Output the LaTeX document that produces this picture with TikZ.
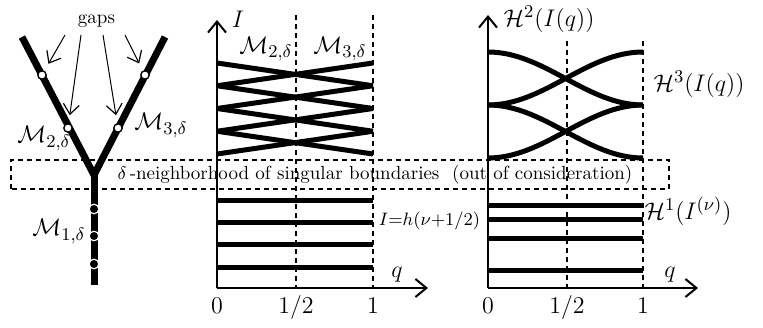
\documentclass[tikz,border=0pt]{standalone}
\usetikzlibrary{arrows.meta}

\tikzset{
  branch/.style={line width=3.5pt},
  opengap/.style={circle, draw, fill=white, line width=0.7pt, inner sep=0pt, minimum size=4.2pt},
  closedgap/.style={circle, draw=white, fill=black, line width=0.6pt, inner sep=0pt, minimum size=4.8pt},
  gaparrow/.style={-{Straight Barb[length=5pt,width=8pt,line width=0.6pt]}, line width=0.5pt, shorten >=4pt},
  axis/.style={line width=0.75pt, -{Straight Barb[length=5.5pt,width=9pt,line width=1pt]}},
  guide/.style={line width=0.6pt, dash pattern=on 2.5pt off 2pt},
  band/.style={line width=2.5pt},
  biglabel/.style={font=\fontsize{13}{15}\selectfont, inner sep=0pt},
  smalllabel/.style={font=\fontsize{9.5}{11}\selectfont, inner sep=1pt},
}

\begin{document}
\begin{tikzpicture}[x=0.5pt, y=0.5pt]
    \useasboundingbox (0,0) rectangle (763,327);

    \coordinate (ltop) at (22,290);
    \coordinate (rtop) at (165,290);
    \coordinate (fork) at (94,152);
    \coordinate (root) at (94,42);
    \draw[branch] (ltop) -- (fork) -- (rtop);
    \draw[branch] (fork) -- (root);

    \node[opengap] (l1) at (42,252) {};
    \node[opengap] (l2) at (68,199) {};
    \node[opengap] (r1) at (145,252) {};
    \node[opengap] (r2) at (118,199) {};
    \foreach \y [count=\i] in {118,91,63}
        \node[closedgap] (d\i) at (94,\y) {};

    \node[smalllabel] (gaps) at (96.5,305.5) {gaps};
    \coordinate (s1) at (65,292);
    \coordinate (s2) at (81,292);
    \coordinate (s3) at (103,292);
    \coordinate (s4) at (125,292);
    \draw[gaparrow] (s1) -- (l1);
    \draw[gaparrow] (s2) -- (l2);
    \draw[gaparrow] (s3) -- (r2);
    \draw[gaparrow] (s4) -- (r1);

    \node[biglabel] (m2) at (44,188.5) {$\mathcal{M}_{2,\delta}$};
    \node[biglabel] (m3) at (161,201.5) {$\mathcal{M}_{3,\delta}$};
    \node[biglabel] (m1) at (59,95.5) {$\mathcal{M}_{1,\delta}$};

    \draw[guide] (11,138) rectangle (669,167);
    \node[smalllabel] (zone) at (375,152.5)
        {$\delta$\,-neighborhood of singular boundaries \ (out of consideration)};

    % middle panel
    \coordinate (o1) at (217,39);
    \coordinate (x1) at (428,39);
    \coordinate (y1) at (217,307);
    \draw[guide] (296,312) -- (296,39);
    \draw[guide] (373,312) -- (373,39);
    \foreach \k in {0,...,3} {
        \draw[band] (217,{264-22.75*\k}) -- (373,{264-22.75*(\k+1)});
        \draw[band] (217,{264-22.75*(\k+1)}) -- (373,{264-22.75*\k});
    }
    \foreach \y in {127,105,83,60}
        \draw[band] (217,\y) -- (373,\y);
    \draw[axis] (o1) -- (y1);
    \draw[axis] (o1) -- (x1);
    \node[biglabel] (ilab) at (238,308) {$I$};
    \node[biglabel] (m2b) at (266,278) {$\mathcal{M}_{2,\delta}$};
    \node[biglabel] (m3b) at (340,278) {$\mathcal{M}_{3,\delta}$};
    \node[smalllabel] (quant) at (429.5,106) {$I{=}h(\nu{+}1/2)$};
    \node[biglabel, anchor=base] (q1) at (397,50) {$q$};
    \node[biglabel, anchor=base] (t10) at (217,14) {$0$};
    \node[biglabel, anchor=base] (t11) at (296,14) {$1/2$};
    \node[biglabel, anchor=base] (t12) at (373,14) {$1$};

    % right panel
    \coordinate (o2) at (488,39);
    \coordinate (x2) at (698,39);
    \coordinate (y2) at (488,312);
    \draw[guide] (567,286) -- (567,39);
    \draw[guide] (643,286) -- (643,39);
    \foreach \a/\b in {275/222, 222/275, 222/169, 169/222}
        \draw[band] (488,\a) .. controls (544.4,\a) and (586.6,\b) .. (643,\b);
    \foreach \y in {122,108,89,57}
        \draw[band] (488,\y) -- (643,\y);
    \draw[axis] (o2) -- (y2);
    \draw[axis] (o2) -- (x2);
    \node[biglabel] (h2) at (549,308) {$\mathcal{H}^2(I(q))$};
    \node[biglabel] (h3) at (699,242.5) {$\mathcal{H}^3(I(q))$};
    \node[biglabel] (h1) at (688,115.5) {$\mathcal{H}^1(I^{(\nu)})$};
    \node[biglabel, anchor=base] (q2) at (670,50) {$q$};
    \node[biglabel, anchor=base] (t20) at (488,14) {$0$};
    \node[biglabel, anchor=base] (t21) at (567,14) {$1/2$};
    \node[biglabel, anchor=base] (t22) at (643,14) {$1$};
\end{tikzpicture}
\end{document}
